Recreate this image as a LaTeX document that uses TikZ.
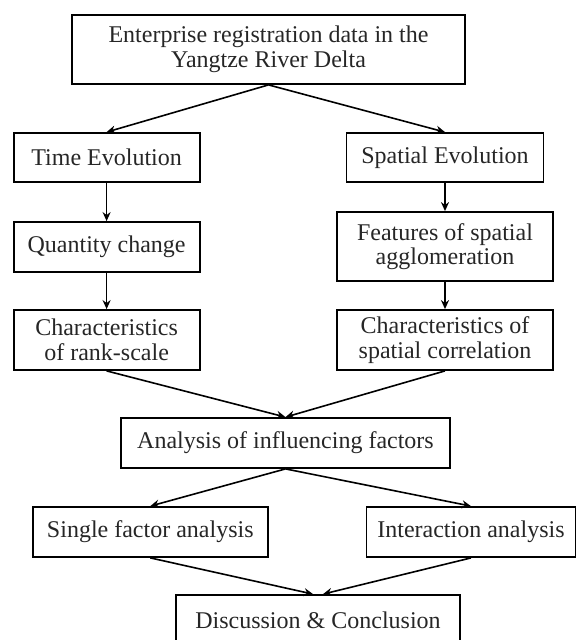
\documentclass[tikz,border=0pt]{standalone}
\usepackage{fontspec}
\setmainfont{Liberation Serif}
\usepackage{tikz}
\usetikzlibrary{arrows.meta}
\tikzset{box/.style={draw,line width=1.8pt,inner sep=0pt,align=center,
    font=\fontsize{24}{24.5}\selectfont,text=black!85}}
\tikzset{arr/.style={line width=1.6pt,-{Stealth[length=9pt,width=8pt]}}}

\begin{document}
\begin{tikzpicture}[x=1pt,y=-1pt]
        \useasboundingbox (0,0) rectangle (576,640);
        % main column of boxes
        \node[box,minimum width=393pt,minimum height=69pt] (data) at (268.5,49.5)
          {Enterprise registration data in the\\Yangtze River Delta};
        \node[box,minimum width=186pt,minimum height=49pt] (time) at (106.6,157.5) {Time Evolution};
        \node[box,minimum width=197pt,minimum height=49pt] (space) at (445,157.5) {Spatial Evolution};
        \node[box,minimum width=186pt,minimum height=50pt] (qty) at (106.6,247) {Quantity change};
        \node[box,minimum width=216pt,minimum height=69pt] (aggl) at (445,246.5)
          {Features of spatial\\agglomeration};
        \node[box,minimum width=186pt,minimum height=60pt] (rank) at (106.6,340)
          {Characteristics\\of rank-scale};
        \node[box,minimum width=216pt,minimum height=60pt] (corr) at (445,340)
          {Characteristics of\\spatial correlation};
        \node[box,minimum width=329pt,minimum height=50pt] (infl) at (285.5,443)
          {Analysis of influencing factors};
        \node[box,minimum width=234.6pt,minimum height=50pt] (single) at (150.3,532)
          {Single factor analysis};
        \node[box,minimum width=209pt,minimum height=50pt] (inter) at (471,532)
          {Interaction analysis};
        \node[box,minimum width=284pt,minimum height=50pt] (concl) at (318,620)
          {Discussion \& Conclusion};
        % arrows
        \draw[arr] (data.south) -- (time.north);
        \draw[arr] (data.south) -- (space.north);
        \draw[arr] (time) -- (qty);
        \draw[arr] (space) -- (aggl);
        \draw[arr] (qty) -- (rank);
        \draw[arr] (aggl) -- (corr);
        \draw[arr] (rank.south) -- (infl.north);
        \draw[arr] (corr.south) -- (infl.north);
        \draw[arr] (infl.south) -- (single.north);
        \draw[arr] (infl.south) -- (inter.north);
        \draw[arr] (single.south) -- ([xshift=-5pt]concl.north);
        \draw[arr] (inter.south) -- ([xshift=5pt]concl.north);
\end{tikzpicture}
\end{document}
